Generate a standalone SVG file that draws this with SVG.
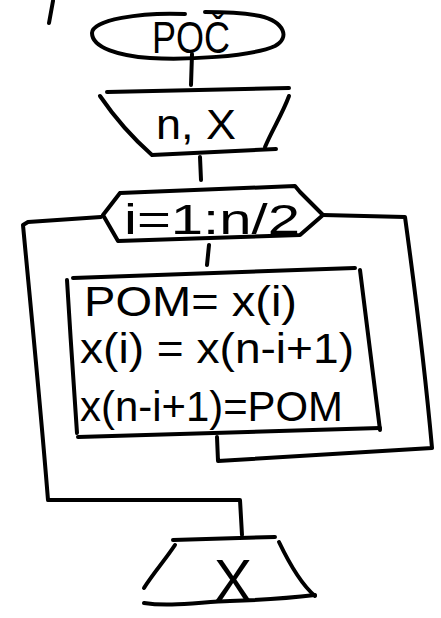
<svg xmlns="http://www.w3.org/2000/svg" width="441" height="618" viewBox="0 0 441 618">
<style>
.s{fill:none;stroke:#000;stroke-width:4;stroke-linecap:round;stroke-linejoin:round}
.t{font-family:"Liberation Sans","DejaVu Sans",sans-serif;fill:#000}
</style>
<rect width="441" height="618" fill="#fff"/>
<path class="s" d="M53,1 L49,23"/>
<g id="start">
<path class="s" d="M185,14 C140,12 92,20 92,33 C92,48 120,56 150,58 C185,60 250,57 275,46 C290,38 285,22 260,16 C240,12 220,12 205,12"/>
<text class="t" x="152" y="53" font-size="44" textLength="78" lengthAdjust="spacingAndGlyphs">POČ</text>
</g>
<g id="input">
<path class="s" d="M107,92 L289,88"/>
<path class="s" d="M100,96 C115,118 135,140 152,155 L276,149"/>
<path class="s" d="M289,96 C282,115 272,130 265,147"/>
<text class="t" x="156" y="139" font-size="42" textLength="80" lengthAdjust="spacingAndGlyphs">n, X</text>
</g>
<g id="loop">
<path class="s" d="M120,193 L295,186 L300,192 L323,215 L300,235 L118,241 L103,215 L120,193"/>
<text class="t" x="124" y="234" font-size="42" textLength="176" lengthAdjust="spacingAndGlyphs">i=1:n/2</text>
</g>
<g id="body">
<path class="s" d="M73,278 L355,268"/>
<path class="s" d="M67,280 C70,330 74,390 77,433"/>
<path class="s" d="M360,270 C366,320 374,380 380,430"/>
<path class="s" d="M78,437 L380,428"/>
<text class="t" x="84" y="316" font-size="42" textLength="213" lengthAdjust="spacingAndGlyphs">POM= x(i)</text>
<text class="t" x="80" y="363" font-size="42" textLength="274" lengthAdjust="spacingAndGlyphs">x(i) = x(n-i+1)</text>
<text class="t" x="80" y="421" font-size="42" textLength="263" lengthAdjust="spacingAndGlyphs">x(n-i+1)=POM</text>
</g>
<g id="output">
<path class="s" d="M173,540 L275,537"/>
<path class="s" d="M175,545 C165,560 152,575 144,588"/>
<path class="s" d="M279,542 C290,565 302,585 315,596"/>
<path class="s" d="M144,603 C170,607 200,602 230,601 C260,600 290,598 315,595"/>
<text class="t" x="214" y="601" font-size="60" textLength="38" lengthAdjust="spacingAndGlyphs">X</text>
</g>
<g id="connectors">
<path class="s" d="M192,54 L191,85"/>
<path class="s" d="M200,157 L201,180"/>
<path class="s" d="M209,245 L207,265"/>
<path class="s" d="M101,217 L28,222 L23,225 C30,300 40,400 48,500 L240,500 L242,535"/>
<path class="s" d="M323,215 L405,217 C415,290 425,370 432,448 L218,461 L217,437"/>
</g>
</svg>
